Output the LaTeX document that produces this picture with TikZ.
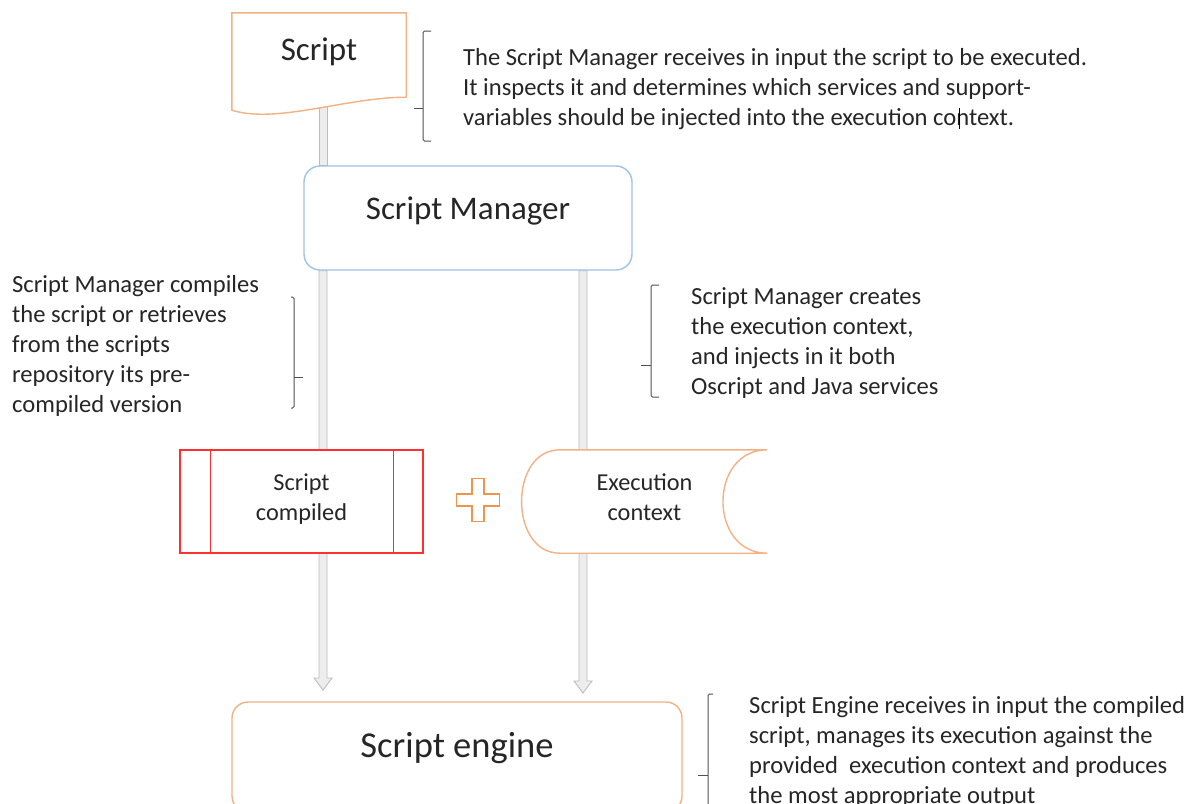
\documentclass[tikz,border=0pt]{standalone}
\usepackage{fontspec}
\setmainfont{Carlito}
\usetikzlibrary{calc}
\pgfdeclarelayer{bg}
\pgfdeclarelayer{mid}
\pgfsetlayers{bg,mid,main}
\definecolor{orng}{HTML}{F4B183}
\definecolor{orngd}{HTML}{F0944A}
\definecolor{blu}{HTML}{9DC3E6}
\definecolor{redl}{HTML}{FF3030}
\definecolor{txt}{HTML}{262626}
\definecolor{arrfill}{HTML}{EDEDED}
\definecolor{arredge}{HTML}{BDBDBD}
\definecolor{brc}{HTML}{505050}
\newcommand\blkarrow[2]{%
  \draw[arredge, fill=arrfill, line width=0.9pt]
    ($(#1)+(-4,0)$) -- ($(#2)+(-4,-12)$) -- ($(#2)+(-9,-12)$) -- (#2)
    -- ($(#2)+(9,-12)$) -- ($(#2)+(4,-12)$) -- ($(#1)+(4,0)$) -- cycle;}
\newcommand\blkshaft[2]{%
  \draw[arredge, fill=arrfill, line width=0.9pt]
    ($(#1)+(-4,0)$) rectangle ($(#2)+(4,0)$);}
\begin{document}
\begin{tikzpicture}[x=1pt,y=-1pt,
  every node/.style={text=txt},
  body/.style={font=\fontsize{24.6}{30}\selectfont, align=left, anchor=north west, inner sep=0pt},
  inbox/.style={font=\fontsize{24.3}{30}\selectfont, align=center, text=txt},
  title/.style={font=\fontsize{33}{38}\selectfont, text=txt},
  brace/.style={draw=brc, line width=1pt, rounded corners=1.5pt},
  shapeline/.style={line width=1.4pt}]
\clip (0,0) rectangle (1196,803);
\begin{pgfonlayer}{bg}
\fill[white] (0,0) rectangle (1196,803);
\end{pgfonlayer}

% ---- shapes ----
\node[inner sep=0pt, minimum width=174pt, minimum height=84pt,
  label={[name=scriptT, title, yshift=3pt]center:Script}] (script) at (319,55) {};
\begin{pgfonlayer}{mid}
\draw[orng, shapeline, fill=white] (script.north west) -- (script.north east) -- (script.south east)
  .. controls +(-60,0) and +(45,14) .. ($(script.south west)+(0,13)$) -- cycle;
\end{pgfonlayer}

\node[draw=blu, shapeline, fill=white, rounded corners=16pt, minimum width=328pt, minimum height=104pt,
  label={[name=smT, title, yshift=7pt]center:Script Manager}] (sm) at (468,218) {};

\node[draw=redl, line width=1.3pt, fill=white, minimum width=243pt, minimum height=103pt,
  inner sep=0pt, label={[name=scT, inbox, yshift=2pt]center:{Script\\compiled}}] (sc) at (301.5,501.5) {};
\draw[redl, line width=1.1pt] ($(sc.north west)+(31,0)$) -- ($(sc.south west)+(31,0)$);
\draw[redl, line width=1.1pt] ($(sc.north east)+(-30,0)$) -- ($(sc.south east)+(-30,0)$);

\node[inner sep=0pt, minimum width=245pt, minimum height=103pt,
  label={[name=ecT, inbox, yshift=4pt]center:{Execution\\context}}] (ec) at (644.5,501.5) {};
\begin{pgfonlayer}{mid}
\draw[orng, shapeline, fill=white] ($(ec.north west)+(38,0)$) -- (ec.north east)
  .. controls +(-59,0) and +(-59,0) .. (ec.south east) -- ($(ec.south west)+(38,0)$)
  .. controls +(-51,0) and +(-51,0) .. ($(ec.north west)+(38,0)$) -- cycle;
\end{pgfonlayer}

\node[draw=orng, shapeline, fill=white, rounded corners=16pt, minimum width=450pt, minimum height=110pt,
  label={[name=seT, title, font=\fontsize{36.5}{40}\selectfont, yshift=9pt]center:Script engine}] (se) at (457,757) {};

% plus sign
\coordinate (plus) at (478,500);
\draw[orngd, line width=1.3pt] ($(plus)+(-6,-21.5)$) -- ($(plus)+(6,-21.5)$) -- ($(plus)+(6,-6)$)
  -- ($(plus)+(21.5,-6)$) -- ($(plus)+(21.5,6)$) -- ($(plus)+(6,6)$) -- ($(plus)+(6,21.5)$)
  -- ($(plus)+(-6,21.5)$) -- ($(plus)+(-6,6)$) -- ($(plus)+(-21.5,6)$) -- ($(plus)+(-21.5,-6)$)
  -- ($(plus)+(-6,-6)$) -- cycle;

% ---- connectors ----
\coordinate (tipL) at (323,690);
\coordinate (tipR) at (583,693);
\coordinate (topS) at (323,100);
\begin{pgfonlayer}{bg}
\blkshaft{topS}{topS |- sm.north}
\blkarrow{tipL |- sm.south}{tipL}
\blkarrow{tipR |- sm.south}{tipR}
\end{pgfonlayer}

% ---- braces ----
\draw[brace] (431,31) -- (423,31) -- (423,141) -- (431,141);
\draw[brace] (423,108) -- (414,108);
\draw[brace] (291,297) -- (294,297) -- (294,408) -- (291,408);
\draw[brace] (294,377) -- (303,377);
\draw[brace] (659,285) -- (651,285) -- (651,397) -- (659,397);
\draw[brace] (651,365) -- (641,365);
\draw[brace] (713,694) -- (708,694) -- (708,820);
\draw[brace] (708,775) -- (698,775);

% ---- texts ----
\node[body] (t1) at (463,48) {The Script Manager receives in input the script to be executed.\\
It inspects it and determines which services and support-\\
variables should be injected into the execution context.};
\draw[black, line width=1pt] (959,108) -- (959,129);

\node[body] (t2) at (12,275) {Script Manager compiles\\the script or retrieves\\from the scripts\\repository its pre-\\compiled version};

\node[body] (t3) at (691,287) {Script Manager creates\\the execution context,\\and injects in it both\\Oscript and Java services};

\node[body] (t4) at (749,696) {Script Engine receives in input the compiled\\script, manages its execution against the\\provided\ \ execution context and produces\\the most appropriate output};
\end{tikzpicture}
\end{document}
